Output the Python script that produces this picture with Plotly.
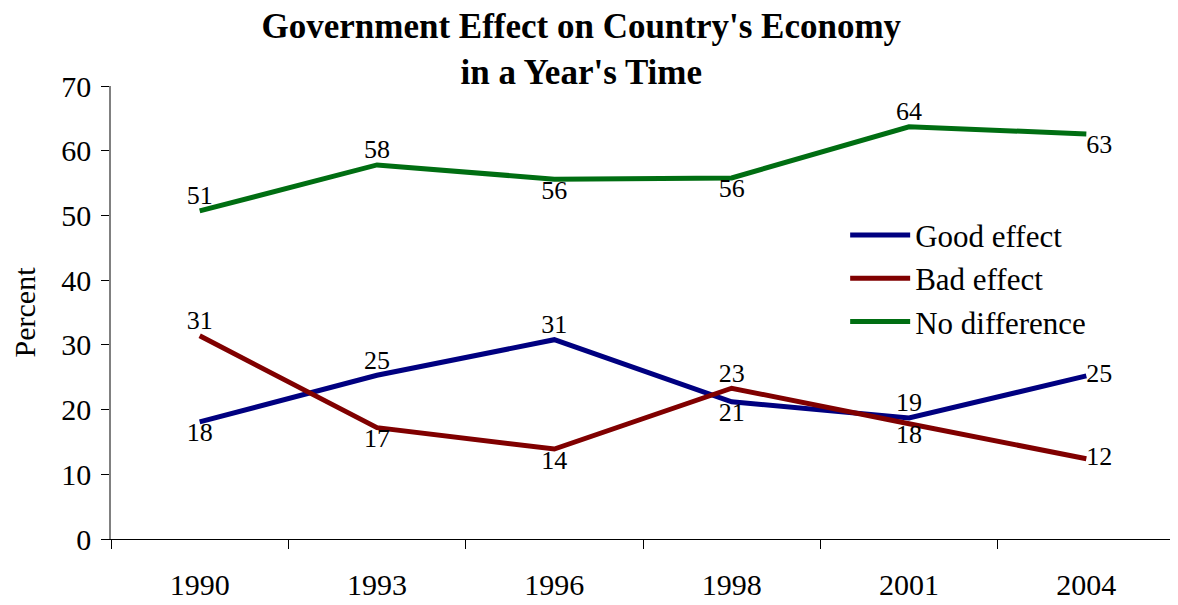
import plotly.graph_objects as go

years = ["1990", "1993", "1996", "1998", "2001", "2004"]
good_effect = [18.1, 25.3, 30.8, 21.2, 18.7, 25.2]
bad_effect = [31.4, 17.2, 13.9, 23.3, 17.8, 12.4]
no_difference = [50.7, 57.8, 55.6, 55.8, 63.7, 62.6]

series_names = ["Good effect", "Bad effect", "No difference"]
series_values = [good_effect, bad_effect, no_difference]
colors = ["#000080", "#800000", "#006E12"]
label_positions = [
    ["bottom center", "top center", "top center", "bottom center", "top center", "middle right"],
    ["top center", "bottom center", "bottom center", "top center", "bottom center", "middle right"],
    ["top center", "top center", "bottom center", "bottom center", "top center", "bottom right"],
]

FONT = "Liberation Serif"

fig = go.Figure()
for name, vals, col, pos in zip(series_names, series_values, colors, label_positions):
    fig.add_trace(go.Scatter(
        x=years, y=vals, name=name, mode="lines+text",
        line=dict(color=col, width=5),
        texttemplate="%{y:.0f}", textposition=pos,
        textfont=dict(family=FONT, size=26, color="black"),
        hoverinfo="x+y+name",
    ))

fig.update_layout(
    width=1170, height=597,
    margin=dict(l=103, r=3, t=78, b=66),
    paper_bgcolor="white", plot_bgcolor="white",
    font=dict(family=FONT, color="black"),
    title=dict(
        text="<b>Government Effect on Country's Economy<br>in a Year's Time</b>",
        x=0.49, xanchor="center", y=0.949, yanchor="top",
        font=dict(family=FONT, size=35, color="black"),
    ),
    legend=dict(
        x=0.69, y=0.73, xanchor="left", yanchor="top",
        font=dict(family=FONT, size=31, color="black"),
        bgcolor="rgba(0,0,0,0)", itemwidth=60, tracegroupgap=0,
    ),
    xaxis=dict(
        type="category", range=[-0.5, 5.5], tickson="boundaries",
        ticks="outside", ticklen=9, tickcolor="black",
        showline=True, linecolor="black", linewidth=1,
        showgrid=False, zeroline=False,
        tickfont=dict(family=FONT, size=30, color="black"),
        ticklabelstandoff=19,
    ),
    yaxis=dict(
        range=[0, 70], dtick=10, tick0=0,
        ticks="outside", ticklen=8, tickcolor="black",
        showline=True, linecolor="#808080", linewidth=1.5,
        showgrid=False, zeroline=False,
        tickfont=dict(family=FONT, size=30, color="black"),
        ticklabelstandoff=4,
        title=dict(text="Percent", font=dict(family=FONT, size=30, color="black"), standoff=28),
    ),
)

fig.write_html("out.html")
